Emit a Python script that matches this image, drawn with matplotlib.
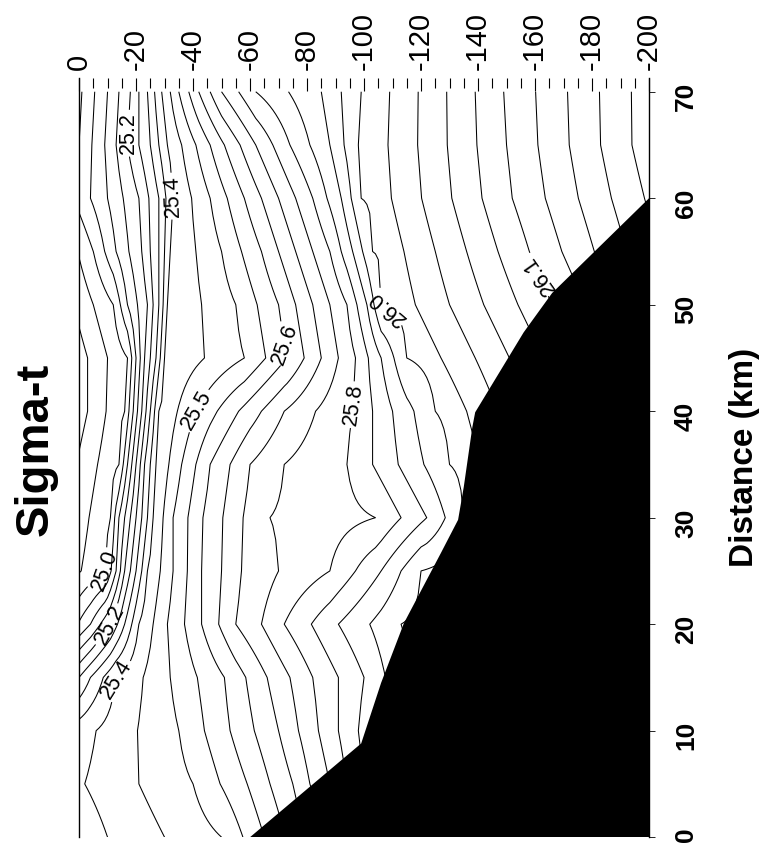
import numpy as np
import matplotlib.pyplot as plt
from matplotlib.ticker import MultipleLocator

plt.rcParams['font.family'] = ['Liberation Sans', 'DejaVu Sans']
plt.rcParams['axes.unicode_minus'] = False

# station distances (km) and depth (m, positive down) of each isopycnal at each station
stations = [0, 5, 10, 15, 20, 25, 30, 35, 40, 45, 50, 55, 60, 65, 70]
sigma_levels = [24.8, 24.9, 25.0, 25.1, 25.2, 25.3, 25.4, 25.5, 25.6,
                25.7, 25.75, 25.8, 25.9, 26.0, 26.1, 26.2, 26.3, 26.4]
iso_depth = [
    [-60, -55, -50, -45, -35, -20, 10, 50, 65, 80, 87, 95, 110, 125, 170, 230, 260, 300],
    [-60, -55, -50, -45, -35, -20, 2, 40, 59, 75, 81, 88, 100, 115, 170, 230, 260, 300],
    [-60, -55, -50, -45, -35, -20, 6, 35, 53, 70, 77, 84, 98, 112, 170, 230, 260, 300],
    [-50, -40, -30, -15, -4, 4, 13, 32, 51, 66, 74, 82, 100, 115, 175, 230, 260, 300],
    [-40, -25, -5, 4, 11, 16, 21, 31, 43, 55, 64, 72, 91, 113, 180, 230, 260, 300],
    [-25, -8, 9.5, 13, 16, 20, 24, 33, 43, 57, 70, 88, 106, 120, 180, 230, 260, 300],
    [-20, -4, 11, 14, 18, 22, 26, 33, 43.4, 57.5, 67, 104, 122, 135, 185, 230, 260, 300],
    [-15, -1, 14, 17, 20, 23, 27, 36, 46, 60, 72, 94, 112, 130, 185, 230, 260, 300],
    [-12, 3, 16, 19, 22, 25, 28, 41, 56, 72, 83, 96, 110, 125, 180, 230, 260, 300],
    [-12, 3, 17, 20, 23, 27, 30, 58, 73, 85, 91, 97, 106, 115, 175, 230, 260, 300],
    [-15, -2, 12, 17, 24, 28, 31, 55, 70, 82, 88, 94, 101, 106, 166, 225, 260, 300],
    [-20, -6, 5, 13, 22, 28, 32, 50, 64, 76, 82, 88, 96, 103, 158, 215, 250, 300],
    [-25, -9, -2, 10, 21, 28, 33, 46, 58, 70, 76, 82, 92, 99, 152, 210, 250, 300],
    [-25, -10, 0, 9, 17, 25, 31, 41, 51, 62, 68, 74, 88, 98, 150, 205, 250, 300],
    [-25, -10, 1, 10, 18, 24, 29, 35, 42, 50, 56, 62, 85, 99, 149, 205, 250, 300],
]

# sea floor (black)
bottom_dist = [0, 8.8, 14.5, 20.1, 26.7, 29.8, 32.9, 38.5, 39.9, 47.4, 51.1, 60]
bottom_depth = [-60, -99, -106, -114, -127, -133, -135, -138, -139, -156, -166, -200]

contour_levels = list(np.round(np.arange(24.85, 25.96, 0.05), 2)) + \
    list(np.round(np.arange(26.0, 26.21, 0.02), 2))
label_levels = [25.0, 25.2, 25.4, 25.5, 25.6, 25.8, 26.0, 26.1]
label_pos = [(-9.8, 25.0), (-11.2, 19.8), (-11.8, 14.9), (-17.2, 66.1), (-33, 60.2),
             (-41.4, 40.1), (-73, 46.3), (-96.5, 40.6), (-106, 48.7), (-162, 52.9)]
label_rot = [70, 62, 58, 90, 92, 60, 70, 82, 140, 125]

z = np.arange(0, 201, 1.0)
sig = np.array([np.interp(z, row, sigma_levels) for row in iso_depth])

fig = plt.figure(figsize=(7.6, 8.56), dpi=100)
ax = fig.add_axes([0.104, 0.022, 0.750, 0.887])

other_levels = [v for v in contour_levels if not np.isclose(v, label_levels).any()]
ax.contour(-z, stations, sig, levels=other_levels, colors='black',
           linewidths=0.75, linestyles='solid')
cs = ax.contour(-z, stations, sig, levels=label_levels, colors='black',
                linewidths=0.75, linestyles='solid')
texts = ax.clabel(cs, manual=label_pos, fmt='%.1f', fontsize=15.5, inline=True,
                  inline_spacing=3)
# the original page was drawn sideways: labels read as on a turned sheet
for t, r in zip(texts, label_rot):
    t.set_rotation(r)

ax.fill(bottom_depth + [-200], bottom_dist + [0], color='black', zorder=3, lw=0)

ax.set_xlim(0, -200)
ax.set_ylim(0, 71.3)

ax.xaxis.tick_top()
ax.set_xticks(np.arange(0, -201, -20))
ax.xaxis.set_minor_locator(MultipleLocator(5))
ax.tick_params(axis='x', which='major', direction='in', length=9, width=0.8,
               pad=6, labelsize=21, labelrotation=90)
ax.tick_params(axis='x', which='minor', direction='in', length=7, width=0.8)

ax.yaxis.tick_right()
ax.yaxis.set_label_position('right')
ax.set_yticks(np.arange(0, 71, 10))
ax.tick_params(axis='y', which='major', direction='out', length=4, width=0.6,
               pad=14, labelsize=19, labelrotation=90)
for lab in ax.get_yticklabels():
    lab.set_fontweight('bold')
ax.set_ylabel('Distance (km)', fontsize=24, fontweight='bold', rotation=90,
              labelpad=22)

ax.spines['top'].set_visible(False)
ax.spines['bottom'].set_visible(False)
ax.spines['left'].set_linewidth(1.0)
ax.spines['right'].set_linewidth(1.0)

fig.text(0.047, 0.475, 'Sigma-t', rotation=90, fontsize=34, fontweight='bold',
         ha='center', va='center')

fig.savefig('out.png', dpi=100)
